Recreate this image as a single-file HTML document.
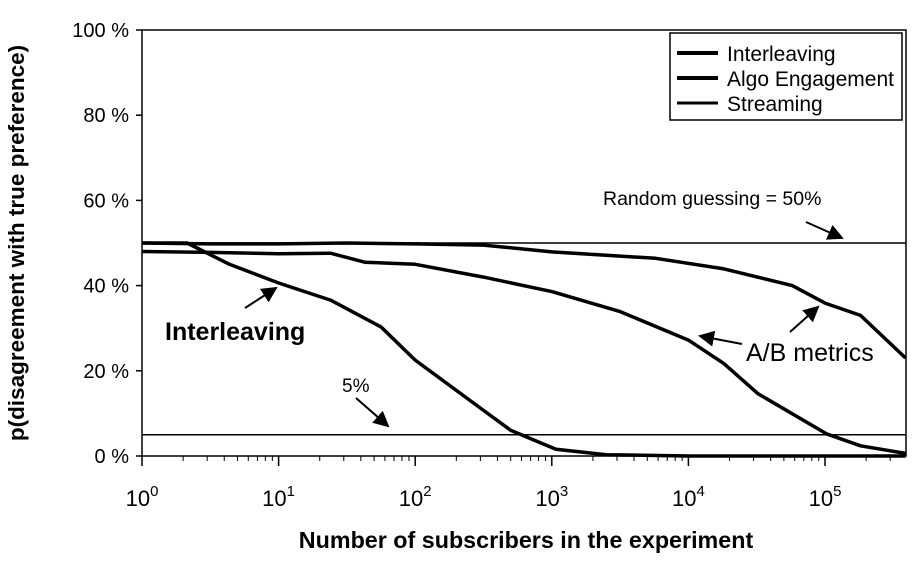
<!DOCTYPE html>
<html><head><meta charset="utf-8"><style>
body{margin:0;background:#fff;}
svg text{font-family:"Liberation Sans",Arial,sans-serif;fill:#000;}
</style></head><body>
<svg width="922" height="559">
<defs><marker id="ah" markerWidth="8" markerHeight="8" refX="7" refY="4" orient="auto"><path d="M0,0 L8,4 L0,8 z" fill="#000"/></marker></defs>
<g id="g"></g>
</svg>
<script>
const xTicks=[0,1,2,3,4,5];
const yTicks=[0,20,40,60,80,100];
const yTickLabels=["0 %","20 %","40 %","60 %","80 %","100 %"];
const interLogN=[0,0.33,0.64,1,1.38,1.75,2,2.5,2.7,3.03,3.4,4,5,5.59];
const interVals=[50,50,45,40.6,36.6,30.3,22.5,10.7,6,1.6,0.3,0,0,0];
const algoLogN=[0,0.5,1,1.38,1.63,2,2.5,3,3.5,4,4.26,4.51,5.01,5.26,5.59];
const algoVals=[48,47.8,47.5,47.6,45.5,45,42,38.6,33.9,27.2,21.7,14.6,5.2,2.4,0.6];
const streamLogN=[0,0.5,1,1.5,2,2.5,3,3.76,4.25,4.76,5,5.26,5.59];
const streamVals=[50,49.8,49.8,50,49.8,49.5,47.9,46.4,44,40,35.9,33,23];
const X0=142,X1=906,Y0=456,Y1=30,DEC=136.6;
const xs=v=>X0+v*DEC, ys=v=>Y0-(v/100)*(Y0-Y1);
const g=document.getElementById('g');const NS='http://www.w3.org/2000/svg';
function el(t,a,txt){const e=document.createElementNS(NS,t);for(const k in a)e.setAttribute(k,a[k]);if(txt!==undefined)e.textContent=txt;g.appendChild(e);return e;}
let e=el('rect',{x:X0,y:Y1,width:X1-X0,height:Y0-Y1,fill:'none',stroke:'#000','stroke-width':1.5});

yTicks.forEach((v,i)=>{
 let t=el('line',{x1:136,x2:142,y1:ys(v),y2:ys(v),stroke:'#000','stroke-width':1.5});
 
 let l=el('text',{x:129,y:ys(v)+7,'text-anchor':'end','font-size':20},yTickLabels[i]);
 
});
xTicks.forEach(v=>{
 let t=el('line',{x1:xs(v),x2:xs(v),y1:Y0,y2:Y0+10,stroke:'#000','stroke-width':1.5});
 
 let l=el('text',{x:xs(v),y:506,'text-anchor':'middle','font-size':22});
 
 l.innerHTML='10<tspan dy="-10" font-size="15">'+v+'</tspan>';
 for(let m=2;m<10;m++){const lx=v+Math.log10(m);if(xs(lx)<X1){let mt=el('line',{x1:xs(lx),x2:xs(lx),y1:Y0,y2:Y0+5,stroke:'#000','stroke-width':1});
 }}
});
[[50,'random-guess-line'],[5,'five-percent-line']].forEach(([v,n])=>{let r=el('line',{x1:X0,x2:X1,y1:ys(v),y2:ys(v),stroke:'#000','stroke-width':1.5});
 });
function series(lx,vals,name,w){const d=lx.map((v,i)=>(i?'L':'M')+xs(v).toFixed(1)+','+ys(vals[i]).toFixed(1)).join(' ');
 let p=el('path',{d:d,fill:'none',stroke:'#000','stroke-width':w,'stroke-linejoin':'round'});
 }
series(streamLogN,streamVals,'streaming-line',3.5);
series(algoLogN,algoVals,'algo-engagement-line',3.5);
series(interLogN,interVals,'interleaving-line',3.5);
function arrow(x1,y1,x2,y2,n){let a=el('line',{x1,y1,x2,y2,stroke:'#000','stroke-width':2,'marker-end':'url(#ah)'});
 }
function txt(x,y,s,fs,n,b){let t=el('text',{x,y,'font-size':fs,'font-weight':b?'bold':'normal'},s);
 }
txt(603,205,'Random guessing = 50%',19.5,'random-guess-annotation');
arrow(806,222,842,238,'random-guess-arrow');
txt(165,340,'Interleaving',25,'interleaving-annotation',true);
arrow(245,308,276,288,'interleaving-arrow');
txt(342,392,'5%',19,'five-percent-annotation');
arrow(356,398,388,426,'five-percent-arrow');
txt(746,361,'A/B metrics',25,'ab-metrics-annotation');
arrow(742,344,700,336,'ab-arrow-algo');
arrow(790,332,818,307,'ab-arrow-streaming');
let lb=el('rect',{x:670,y:33,width:232,height:87,fill:'#fff',stroke:'#000','stroke-width':1.5});

[['Interleaving',4],['Algo Engagement',4],['Streaming',3]].forEach(([s,w],i)=>{
 const y=54+i*25;
 let l=el('line',{x1:677,x2:718,y1:y-1,y2:y-1,stroke:'#000','stroke-width':w});
 
 txt(727,y+7,s,21,'legend-entry');
});
let yt=el('text',{x:0,y:0,'font-size':22.5,'font-weight':'bold','text-anchor':'middle',transform:'translate(24,243) rotate(-90)'},'p(disagreement with true preference)');

let xt=el('text',{x:526,y:548,'font-size':23.3,'font-weight':'bold','text-anchor':'middle'},'Number of subscribers in the experiment');

</script>
</body></html>
